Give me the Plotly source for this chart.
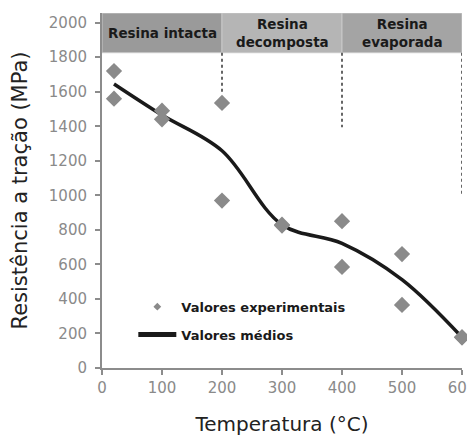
import plotly.graph_objects as go

# ---- data ----
temp_exp = [20, 20, 100, 100, 200, 200, 300, 300, 400, 400, 500, 500, 600, 600]
res_exp = [1720, 1560, 1490, 1440, 1535, 970, 830, 825, 850, 585, 660, 365, 178, 178]

temp_mean = [20, 100, 200, 300, 400, 500, 600]
res_mean = [1645, 1465, 1258, 830, 722, 512, 178]

band_labels = ["Resina intacta", "Resina<br>decomposta", "Resina<br>evaporada"]
band_start = [0, 200, 400]
band_end = [200, 400, 600]
band_colors = ["#9a9a9a", "#b5b5b5", "#a4a4a4"]
band_bottom = 1826

divider_x = [200, 400, 600]
divider_bottom = [1600, 1395, 1005]

x_ticks = [0, 100, 200, 300, 400, 500, 600]
y_ticks = [0, 200, 400, 600, 800, 1000, 1200, 1400, 1600, 1800, 2000]

FONT = "DejaVu Sans"

fig = go.Figure()

# dotted dividers below the bands
for xd, yb in zip(divider_x, divider_bottom):
    fig.add_trace(go.Scatter(
        x=[xd, xd], y=[band_bottom, yb], mode="lines",
        line=dict(color="#666666", width=2, dash="dot"),
        showlegend=False, cliponaxis=False, hoverinfo="skip",
    ))

# mean curve (smoothed)
fig.add_trace(go.Scatter(
    x=temp_mean, y=res_mean, mode="lines",
    line=dict(color="#1a1a1a", width=3.5, shape="spline", smoothing=1.0),
    name="Valores médios", showlegend=False, cliponaxis=False,
))
# experimental points
fig.add_trace(go.Scatter(
    x=temp_exp, y=res_exp, mode="markers",
    marker=dict(symbol="diamond", size=12.5, color="#8a8a8a"),
    name="Valores experimentais", showlegend=False, cliponaxis=False,
))
# legend proxies
fig.add_trace(go.Scatter(
    x=[None], y=[None], mode="markers",
    marker=dict(symbol="diamond", size=6, color="#8a8a8a"),
    name="<b>Valores experimentais</b>", legendgroup="a",
))
fig.add_trace(go.Scatter(
    x=[None], y=[None], mode="lines",
    line=dict(color="#1a1a1a", width=5),
    name="<b>Valores médios</b>", legendgroup="b",
))

shapes = []
for x0, x1, c in zip(band_start, band_end, band_colors):
    shapes.append(dict(type="rect", xref="x", yref="y", x0=x0, x1=x1,
                       y0=band_bottom, y1=2056, fillcolor=c,
                       line=dict(color="#c8c8c8", width=1), layer="below"))

annotations = []
for x0, x1, lab in zip(band_start, band_end, band_labels):
    annotations.append(dict(x=(x0 + x1) / 2, y=1941, xref="x", yref="y",
                            text="<b>" + lab + "</b>", showarrow=False,
                            font=dict(family=FONT, size=13.5, color="#1a1a1a")))

# the page body adds an 8px offset, so the figure is sized to fit the window
fig.update_layout(
    width=467, height=428,
    margin=dict(l=94, r=13, t=5, b=68),
    paper_bgcolor="white", plot_bgcolor="white",
    shapes=shapes, annotations=annotations,
    font=dict(family=FONT),
    legend=dict(x=0.087, y=0.215, xanchor="left", yanchor="top",
                bgcolor="rgba(0,0,0,0)", font=dict(family=FONT, size=13, color="#1a1a1a"),
                tracegroupgap=8, traceorder="grouped", itemwidth=38),
    xaxis=dict(range=[0, 600], tickvals=x_ticks, showgrid=False, zeroline=False,
               automargin=False, ticklabeloverflow="allow",
               showline=True, linecolor="#8c8c8c", linewidth=2,
               ticks="outside", ticklen=5, tickcolor="#8c8c8c", tickwidth=1.5,
               tickfont=dict(family=FONT, size=15, color="#8a8a8a"),
               title=dict(text="Temperatura (°C)", font=dict(family=FONT, size=20, color="#222222"),
                          standoff=31)),
    yaxis=dict(range=[0, 2056], tickvals=y_ticks, showgrid=False, zeroline=False,
               automargin=False,
               showline=True, linecolor="#8c8c8c", linewidth=2,
               ticks="outside", ticklen=5, tickcolor="#8c8c8c", tickwidth=1.5,
               ticklabelstandoff=5,
               tickfont=dict(family=FONT, size=15, color="#8a8a8a"),
               title=dict(text="Resistência a tração (MPa)",
                          font=dict(family=FONT, size=21, color="#222222"), standoff=16)),
)

fig.write_html("out.html")
